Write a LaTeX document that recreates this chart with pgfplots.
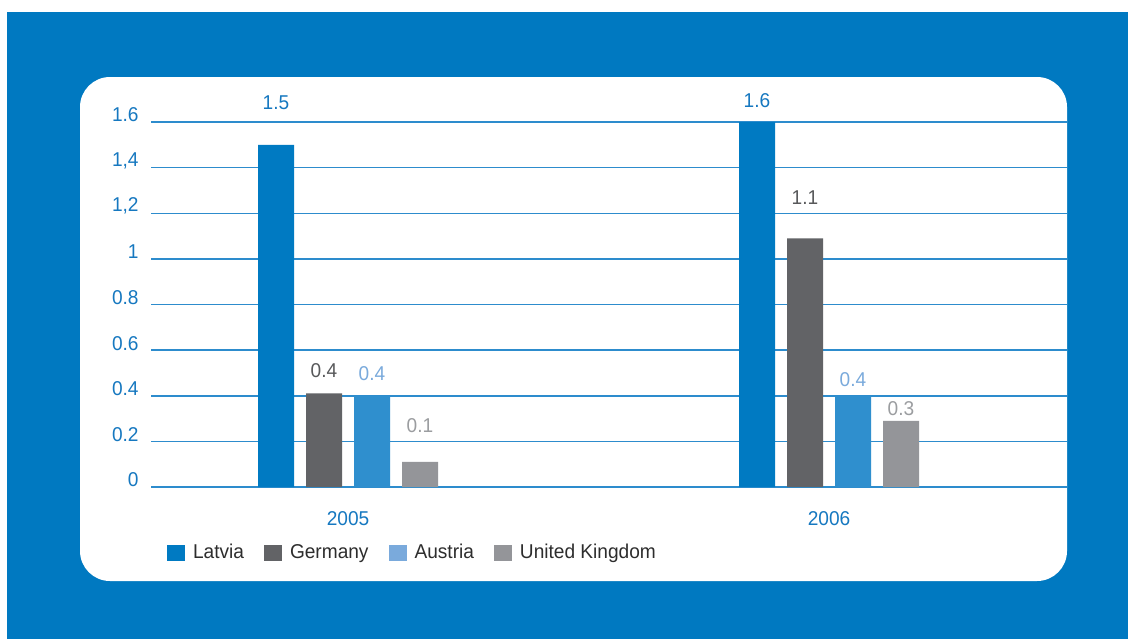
\documentclass[border=0pt]{standalone}
\usepackage{pgfplots}
\pgfplotsset{compat=1.18}
\usepackage{pgfplotstable}
\usepackage{fontspec}
\setmainfont{Liberation Sans}[FakeStretch=0.955]

\definecolor{bgblue}{RGB}{0,121,193}
\definecolor{latbar}{RGB}{0,122,194}
\definecolor{gerbar}{RGB}{98,99,102}
\definecolor{ausbar}{RGB}{47,143,206}
\definecolor{ukbar}{RGB}{148,149,153}
\definecolor{ausleg}{RGB}{122,170,220}
\definecolor{latlab}{RGB}{22,120,192}
\definecolor{gerlab}{RGB}{88,89,91}
\definecolor{auslab}{RGB}{122,170,220}
\definecolor{uklab}{RGB}{155,157,160}
\definecolor{gridblue}{RGB}{45,140,205}
\definecolor{tickblue}{RGB}{22,120,192}
\definecolor{legtext}{RGB}{45,45,45}

% bar values: x = year index, y = value
\pgfplotstableread{
x y
0 1.50
1 1.60
}\latvia
\pgfplotstableread{
x y
0 0.41
1 1.09
}\germany
\pgfplotstableread{
x y
0 0.40
1 0.40
}\austria
\pgfplotstableread{
x y
0 0.11
1 0.29
}\uk
% value labels: position and text
\pgfplotstableread{
x y lab
-0.1497 1.683 1.5
0.8503 1.692 1.6
}\latlabs
\pgfplotstableread{
x y lab
-0.0499 0.511 0.4
0.9501 1.269 1.1
}\gerlabs
\pgfplotstableread{
x y lab
0.0499 0.495 0.4
1.0499 0.469 0.4
}\auslabs
\pgfplotstableread{
x y lab
0.1497 0.270 0.1
1.1497 0.342 0.3
}\uklabs

\newcommand{\lblfont}{\fontsize{10}{12}\selectfont}

\pgfplotsset{
  mylegend/.style={legend image code/.code={\fill[##1,draw=none] (0pt,-4pt) rectangle (9pt,4pt);}},
  mybar/.style={ybar, bar width=18pt, draw=none, forget plot},
  vals/.style={draw=none, mark=none, forget plot, nodes near coords, point meta=explicit symbolic,
    every node near coord/.append style={anchor=center, font=\lblfont, inner sep=0pt, text=#1}},
}

\begin{document}
\begin{tikzpicture}[x=1pt,y=1pt]
\useasboundingbox (0,0) rectangle (564,319.5);
\fill[bgblue] (3.5,0) rectangle (564,313.5);
\fill[white, rounded corners=15pt] (40,29) rectangle (533.5,281);
\begin{axis}[
  scale only axis, anchor=south west, at={(75.5pt,76pt)},
  width=458pt, height=182.5pt,
  xmin=-0.4096, xmax=1.4948, ymin=0, ymax=1.6,
  xtick={0,1}, xticklabels={2005,2006},
  ytick={0,0.2,0.4,0.6,0.8,1,1.2,1.4,1.6},
  yticklabels={0,0.2,0.4,0.6,0.8,1,{1,2},{1,4},1.6},
  ymajorgrids, grid style={gridblue, line width=0.75pt},
  axis line style={draw=none}, major tick length=0pt, tick style={draw=none},
  clip=false,
  yticklabel style={anchor=east, inner sep=0pt, xshift=-6pt, yshift=3.5pt, text=tickblue, font=\lblfont},
  xticklabel style={anchor=center, inner sep=0pt, yshift=-16pt, text=tickblue, font=\lblfont},
  legend columns=4,
  legend style={at={(0.0175,-0.1795)}, anchor=west, draw=none, fill=none,
    inner sep=0pt, outer sep=0pt, font=\lblfont, text=legtext,
    nodes={inner sep=0pt},
    /tikz/every odd column/.append style={column sep=4pt},
    /tikz/every even column/.append style={column sep=10pt}},
]
\addplot[mybar, bar shift=-36pt, fill=latbar] table[x=x,y=y]{\latvia};
\addplot[mybar, bar shift=-12pt, fill=gerbar] table[x=x,y=y]{\germany};
\addplot[mybar, bar shift=12pt, fill=ausbar] table[x=x,y=y]{\austria};
\addplot[mybar, bar shift=36pt, fill=ukbar] table[x=x,y=y]{\uk};
\addplot[vals=latlab] table[x=x,y=y,meta=lab]{\latlabs};
\addplot[vals=gerlab] table[x=x,y=y,meta=lab]{\gerlabs};
\addplot[vals=auslab] table[x=x,y=y,meta=lab]{\auslabs};
\addplot[vals=uklab] table[x=x,y=y,meta=lab]{\uklabs};
\addlegendimage{mylegend, fill=latbar}
\addlegendentry{Latvia}
\addlegendimage{mylegend, fill=gerbar}
\addlegendentry{Germany}
\addlegendimage{mylegend, fill=ausleg}
\addlegendentry{Austria}
\addlegendimage{mylegend, fill=ukbar}
\addlegendentry{United Kingdom}
\end{axis}
\end{tikzpicture}
\end{document}
